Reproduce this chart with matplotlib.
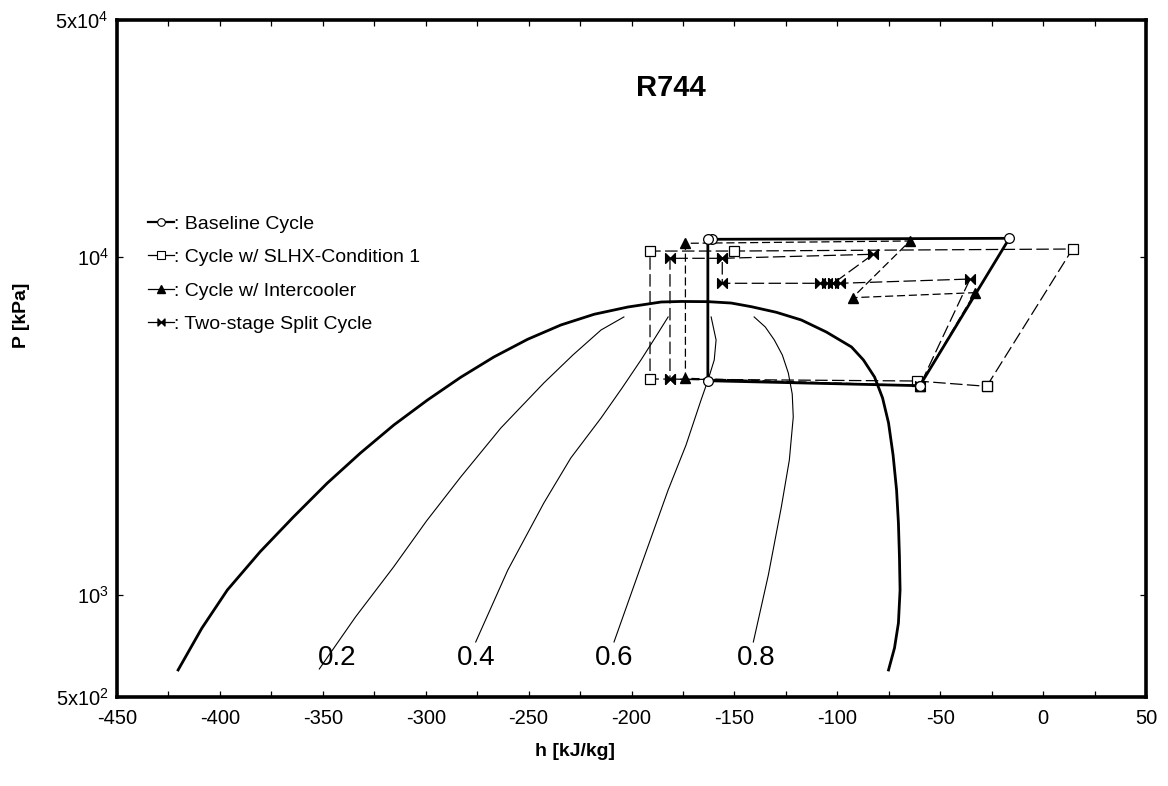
import numpy as np
import matplotlib
matplotlib.use("Agg")
import matplotlib.pyplot as plt
from matplotlib.lines import Line2D
from matplotlib.path import Path
from matplotlib.ticker import MultipleLocator, NullLocator, FixedLocator

plt.rcParams['font.family'] = ['Liberation Sans', 'DejaVu Sans']
plt.rcParams['mathtext.fontset'] = 'custom'
plt.rcParams['mathtext.rm'] = 'Liberation Sans'

# ---------------- data (h in kJ/kg, P in kPa) ----------------
dome_h = [-420.3, -408.8, -396.4, -380.4, -364.3, -347.9, -331.7, -315.5, -299.1,
          -283.0, -266.9, -250.5, -234.3, -218.1, -201.7, -185.6,
          -175.9, -162.8, -151.6, -141.8, -129.6, -117.5, -105.3, -93.1, -87.3,
          -81.9, -78.0, -75.1, -72.9, -71.2, -70.3, -69.8, -69.5, -70.3, -72.2, -75.1]
dome_P = [601, 798, 1035, 1344, 1701, 2140, 2629, 3180, 3771,
          4400, 5051, 5697, 6281, 6756, 7098, 7343,
          7370, 7360, 7292, 7113, 6846, 6498, 5986, 5408, 4950,
          4409, 3822, 3225, 2594, 2044, 1633, 1296, 1035, 827, 698, 601]

q02_h = [-351.7, -334.1, -315.6, -299.6, -283.0, -263.5, -242.6, -228.5, -214.8, -203.7]
q02_P = [605, 862, 1211, 1656, 2233, 3116, 4233, 5119, 6070, 6633]
q04_h = [-275.7, -260.1, -242.6, -229.5, -214.8, -204.6, -195.4, -188.6, -182.2]
q04_P = [727, 1186, 1871, 2541, 3336, 4090, 4950, 5749, 6633]
q06_h = [-208.5, -195.4, -182.2, -173.5, -166.2, -162.8, -159.8, -158.9, -161.3]
q06_P = [727, 1219, 2044, 2776, 3771, 4321, 4950, 5671, 6633]
q08_h = [-140.8, -133.5, -127.2, -123.3, -121.4, -121.9, -123.8, -126.7, -130.6, -135.0, -140.4]
q08_P = [727, 1147, 1820, 2507, 3359, 3928, 4530, 5119, 5671, 6196, 6633]

quality_labels = ['0.2', '0.4', '0.6', '0.8']
quality_label_h = [-342.9, -275.7, -208.5, -139.4]
quality_label_P = 652

base_h = [-59.9, -16.4, -160.8, -162.9, -162.9, -59.9]
base_P = [4156, 11325, 11250, 11250, 4298, 4156]

slhx_h = [-27.4, 14.3, -150.2, -191.0, -191.0, -61.2, -27.4]
slhx_P = [4138, 10530, 10385, 10385, 4350, 4290, 4138]

ic_h = [-59.9, -33.1, -92.6, -64.7, -173.8, -173.8, -59.9]
ic_P = [4156, 7825, 7562, 11121, 10946, 4371, 4156]

split_h = [-181.3, -59.9, -35.5, -98.5, -101.9, -104.8, -108.2, -155.9, -155.9, -181.3, -181.3]
split_P = [4350, 4156, 8585, 8340, 8340, 8340, 8340, 8340, 9885, 9885, 4350]
split2_h = [-155.9, -82.6, -101.9]
split2_P = [9885, 10160, 8340]

series_labels = [': Baseline Cycle', ': Cycle w/ SLHX-Condition 1',
                 ': Cycle w/ Intercooler', ': Two-stage Split Cycle']

x_ticks = list(range(-450, 51, 50))
y_ticks = [500, 1000, 10000, 50000]
y_tick_labels = [r'$\mathregular{5x10^2}$', r'$\mathregular{10^3}$',
                 r'$\mathregular{10^4}$', r'$\mathregular{5x10^4}$']

# ---------------- figure ----------------
W, H = 1168, 786
fig = plt.figure(figsize=(W / 100, H / 100), dpi=100)
ax = fig.add_axes([117 / W, 89 / H, 1029 / W, 677 / H])
ax.set_yscale('log')
ax.set_xlim(-450, 50)
ax.set_ylim(500, 50000)

# bow-tie marker
bowtie = Path([(-1, 1), (0, 0), (1, 1), (1, -1), (0, 0), (-1, -1), (-1, 1)],
              [Path.MOVETO, Path.LINETO, Path.LINETO, Path.LINETO, Path.LINETO,
               Path.LINETO, Path.CLOSEPOLY])

# saturation dome and quality lines
ax.plot(dome_h, dome_P, color='black', lw=2.0, solid_joinstyle='round', zorder=2)
for qh, qp in [(q02_h, q02_P), (q04_h, q04_P), (q06_h, q06_P), (q08_h, q08_P)]:
    ax.plot(qh, qp, color='black', lw=0.8, solid_joinstyle='round', zorder=2)
for lab, lh in zip(quality_labels, quality_label_h):
    ax.text(lh, quality_label_P, lab, ha='center', va='center', fontsize=20, zorder=3)

# cycles
dash_long = (10, 3.5)
dash_short = (6.5, 3)
ax.plot(slhx_h, slhx_P, color='black', lw=0.9, dashes=dash_long,
        marker='s', ms=7, mfc='white', mec='black', mew=0.9, zorder=4)
ax.plot(ic_h, ic_P, color='black', lw=0.9, dashes=dash_short,
        marker='^', ms=7.5, mfc='black', mec='black', zorder=4)
ax.plot(split_h, split_P, color='black', lw=0.9, dashes=dash_long,
        marker=bowtie, ms=7, mfc='black', mec='black', zorder=4)
ax.plot(split2_h, split2_P, color='black', lw=0.9, dashes=dash_long,
        marker=bowtie, ms=7, mfc='black', mec='black', zorder=4)
ax.plot(base_h, base_P, color='black', lw=2.0, solid_joinstyle='round',
        marker='o', ms=7, mfc='white', mec='black', mew=0.9, zorder=5)

# legend
handles = [
    Line2D([], [], color='black', lw=1.6, marker='o', ms=5.5, mfc='white', mec='black', mew=0.8),
    Line2D([], [], color='black', lw=0.9, marker='s', ms=5.5, mfc='white', mec='black', mew=0.8),
    Line2D([], [], color='black', lw=0.9, marker='^', ms=5.5, mfc='black', mec='black'),
    Line2D([], [], color='black', lw=0.9, marker=bowtie, ms=5, mfc='black', mec='black'),
]
ax.legend(handles, series_labels, loc='upper left',
          bbox_to_anchor=(148 / W, 1 - 215 / H), bbox_transform=fig.transFigure,
          frameon=False, fontsize=14, handlelength=1.35, handletextpad=0.0,
          labelspacing=0.82, borderpad=0, borderaxespad=0)

# axes styling
for s in ax.spines.values():
    s.set_linewidth(2.6)
ax.xaxis.set_major_locator(FixedLocator(x_ticks))
ax.xaxis.set_minor_locator(MultipleLocator(25))
ax.yaxis.set_major_locator(FixedLocator(y_ticks))
ax.yaxis.set_minor_locator(NullLocator())
ax.set_yticklabels(y_tick_labels)
ax.set_xticklabels([str(v) for v in x_ticks])
ax.tick_params(which='both', direction='in', top=True, right=True,
               length=4, width=0.9, labelsize=14.5)
ax.tick_params(axis='x', pad=9)
ax.tick_params(axis='y', pad=6)

fig.text(575 / W, 1 - 752 / H, 'h [kJ/kg]', ha='center', va='center',
         fontsize=14, fontweight='bold')
fig.text(22 / W, 1 - 315 / H, 'P [kPa]', ha='center', va='center',
         fontsize=14, fontweight='bold', rotation=90)
fig.text(670.5 / W, 1 - 88 / H, 'R744', ha='center', va='center',
         fontsize=21, fontweight='bold')

fig.savefig('out.png', dpi=100)
